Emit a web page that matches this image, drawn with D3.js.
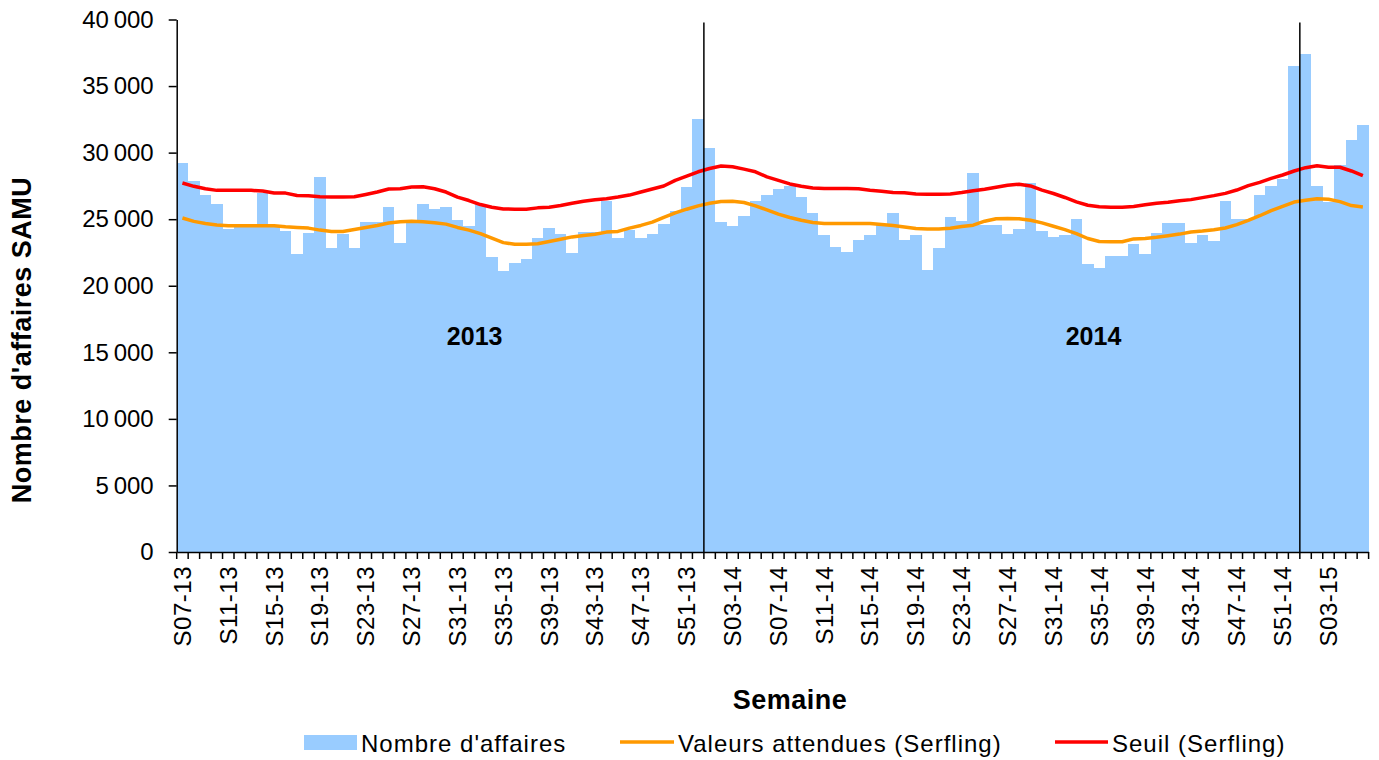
<!DOCTYPE html>
<html>
<head>
<meta charset="utf-8">
<script src="https://cdn.jsdelivr.net/npm/d3@7"></script>
<style>
  body { margin: 0; background: #fff; }
  svg text { font-family: "Liberation Sans", Arial, sans-serif; fill: #000; }
</style>
</head>
<body>
<svg id="chart" width="1379" height="760"></svg>
<script>
// weeks S07-13 .. S06-15
var weeks = [
  "S07-13","S08-13","S09-13","S10-13","S11-13","S12-13","S13-13","S14-13","S15-13","S16-13",
  "S17-13","S18-13","S19-13","S20-13","S21-13","S22-13","S23-13","S24-13","S25-13","S26-13",
  "S27-13","S28-13","S29-13","S30-13","S31-13","S32-13","S33-13","S34-13","S35-13","S36-13",
  "S37-13","S38-13","S39-13","S40-13","S41-13","S42-13","S43-13","S44-13","S45-13","S46-13",
  "S47-13","S48-13","S49-13","S50-13","S51-13","S52-13",
  "S01-14","S02-14","S03-14","S04-14","S05-14","S06-14","S07-14","S08-14","S09-14","S10-14",
  "S11-14","S12-14","S13-14","S14-14","S15-14","S16-14","S17-14","S18-14","S19-14","S20-14",
  "S21-14","S22-14","S23-14","S24-14","S25-14","S26-14","S27-14","S28-14","S29-14","S30-14",
  "S31-14","S32-14","S33-14","S34-14","S35-14","S36-14","S37-14","S38-14","S39-14","S40-14",
  "S41-14","S42-14","S43-14","S44-14","S45-14","S46-14","S47-14","S48-14","S49-14","S50-14",
  "S51-14","S52-14",
  "S01-15","S02-15","S03-15","S04-15","S05-15","S06-15"
];

var affaires = [
  29250,27900,26800,26150,24250,24500,24500,26950,24500,24100,
  22350,24000,28200,22800,23900,22800,24800,24800,25900,23240,
  24800,26150,25750,25900,24960,24500,26150,22180,21090,21700,
  22030,23570,24330,23870,22480,24050,24050,26350,23570,24200,
  23570,23870,24630,25600,27420,32530,
  30330,24810,24500,25270,26350,26800,27250,27480,26630,25430,
  23800,22920,22550,23420,23780,24600,25430,23470,23780,21170,
  22870,25130,24850,28500,24550,24550,23920,24250,27750,24100,
  23630,23780,25000,21650,21340,22250,22250,23170,22400,23940,
  24710,24710,23210,23790,23380,26390,25040,25040,26840,27470,
  28040,36490,
  37420,27470,26270,29100,30980,32050
];

var attendues = [
  25090,24835,24680,24560,24500,24500,24500,24500,24500,24430,
  24380,24330,24180,24080,24080,24230,24380,24530,24710,24810,
  24840,24810,24740,24630,24380,24180,23920,23570,23240,23110,
  23110,23160,23320,23490,23670,23770,23870,24030,24080,24330,
  24530,24780,25140,25470,25750,26000,
  26200,26330,26350,26250,26000,25700,25380,25130,24920,24750,
  24670,24670,24670,24670,24670,24600,24520,24420,24300,24270,
  24270,24320,24450,24550,24850,25030,25050,25030,24920,24720,
  24470,24220,23920,23550,23320,23300,23300,23520,23550,23640,
  23760,23880,24040,24110,24210,24340,24590,24910,25260,25640,
  25960,26290,
  26420,26540,26500,26320,26020,25920
];

var seuil = [
  27720,27470,27290,27165,27165,27165,27165,27110,26960,26960,
  26785,26760,26680,26660,26660,26680,26860,27040,27270,27290,
  27420,27440,27290,27040,26660,26400,26100,25900,25770,25750,
  25750,25850,25900,26030,26200,26350,26460,26530,26660,26810,
  27040,27270,27490,27920,28230,28560,
  28810,28990,28940,28760,28560,28180,27920,27650,27480,27350,
  27300,27300,27300,27280,27180,27100,27000,26980,26900,26880,
  26880,26900,27000,27130,27250,27400,27550,27630,27500,27180,
  26930,26630,26300,26050,25930,25900,25900,25950,26080,26200,
  26270,26390,26470,26620,26770,26940,27190,27520,27770,28070,
  28320,28620,
  28870,29020,28900,28900,28620,28270
];

var tickWeeks = [
  "S07-13","S11-13","S15-13","S19-13","S23-13","S27-13","S31-13","S35-13","S39-13","S43-13",
  "S47-13","S51-13","S03-14","S07-14","S11-14","S15-14","S19-14","S23-14","S27-14","S31-14",
  "S35-14","S39-14","S43-14","S47-14","S51-14","S03-15"
];
var yTicks = [0, 5000, 10000, 15000, 20000, 25000, 30000, 35000, 40000];

// year separators (drawn at start of the week) and year labels
var yearStarts = ["S01-14", "S01-15"];
var yearLabels = ["2013", "2014"];
var yearLabelWeeks = ["S33-13", "S35-14"];
var yearLabelValue = 16200;

var svg = d3.select("#chart"),
    plotLeft = 176.7, plotRight = 1368.6, plotTop = 19.5, plotBottom = 552;

var x = d3.scaleBand()
    .domain(weeks)
    .range([plotLeft, plotRight])
    .padding(0);
var y = d3.scaleLinear()
    .domain([0, 40000])
    .range([plotBottom, plotTop]);

var fmt = d3.formatLocale({decimal: ",", thousands: "\u2009", grouping: [3], currency: ["", " €"]}).format(",d");

// bars
svg.append("g").selectAll("rect")
    .data(affaires)
    .enter().append("rect")
    .attr("x", function (d, i) { return x(weeks[i]); })
    .attr("width", x.bandwidth())
    .attr("y", function (d) { return y(d); })
    .attr("height", function (d) { return y(0) - y(d); })
    .attr("fill", "#99CCFF")
    .attr("shape-rendering", "crispEdges");

// serfling lines
var line = d3.line()
    .x(function (d, i) { return x(weeks[i]) + x.bandwidth() / 2; })
    .y(function (d) { return y(d); });

svg.append("path")
    .datum(attendues)
    .attr("d", line)
    .attr("fill", "none")
    .attr("stroke", "#FF9900")
    .attr("stroke-width", 3.5)
    .attr("stroke-linejoin", "round");

svg.append("path")
    .datum(seuil)
    .attr("d", line)
    .attr("fill", "none")
    .attr("stroke", "#FF0000")
    .attr("stroke-width", 3.5)
    .attr("stroke-linejoin", "round");

// year separators
svg.append("g").selectAll("line")
    .data(yearStarts)
    .enter().append("line")
    .attr("x1", function (d) { return x(d); })
    .attr("x2", function (d) { return x(d); })
    .attr("y1", plotTop + 3)
    .attr("y2", plotBottom)
    .attr("stroke", "#000")
    .attr("stroke-width", 1.5);

svg.append("g").selectAll("text")
    .data(yearLabels)
    .enter().append("text")
    .attr("x", function (d, i) { return x(yearLabelWeeks[i]); })
    .attr("y", y(yearLabelValue))
    .attr("dy", "0.35em")
    .attr("text-anchor", "middle")
    .style("font-size", "25px")
    .style("font-weight", "bold")
    .text(function (d) { return d; });

// y axis
var yAxis = svg.append("g")
    .attr("transform", "translate(" + plotLeft + ",0)")
    .call(d3.axisLeft(y).tickValues(yTicks).tickFormat(fmt).tickSizeInner(8).tickSizeOuter(0).tickPadding(15));
yAxis.select(".domain").attr("stroke-width", 1.5);
yAxis.selectAll(".tick line").attr("stroke-width", 1.5);
yAxis.selectAll("text").style("font-size", "24px").attr("font-family", null);

// x axis
var xAxis = svg.append("g")
    .attr("transform", "translate(0," + plotBottom + ")")
    .call(d3.axisBottom(x).tickValues(tickWeeks).tickSize(0).tickSizeOuter(0).tickPadding(0));
xAxis.select(".domain").attr("stroke-width", 1.5);
xAxis.selectAll("text")
    .attr("font-family", null)
    .style("font-size", "24px")
    .style("letter-spacing", "0.5px")
    .attr("text-anchor", "end")
    .attr("transform", "translate(0,14) rotate(-90)")
    .attr("x", 0)
    .attr("y", 0)
    .attr("dy", "0.35em");

// category boundary ticks
xAxis.selectAll("line.cat")
    .data(weeks.concat([null]))
    .enter().append("line")
    .attr("class", "cat")
    .attr("x1", function (d) { return d ? x(d) : plotRight; })
    .attr("x2", function (d) { return d ? x(d) : plotRight; })
    .attr("y1", 0)
    .attr("y2", 7)
    .attr("stroke", "#000")
    .attr("stroke-width", 1.5);

// axis titles
svg.append("text")
    .attr("x", 790)
    .attr("y", 709)
    .attr("text-anchor", "middle")
    .style("font-size", "27px")
    .style("font-weight", "bold")
    .style("letter-spacing", "0.5px")
    .text("Semaine");

svg.append("text")
    .attr("transform", "translate(31,340) rotate(-90)")
    .attr("text-anchor", "middle")
    .style("font-size", "27px")
    .style("font-weight", "bold")
    .style("letter-spacing", "0.5px")
    .text("Nombre d'affaires SAMU");

// legend
var legend = svg.append("g")
    .attr("transform", "translate(0,742)")
    .style("font-size", "24px")
    .style("letter-spacing", "1px");
legend.append("rect")
    .attr("x", 304).attr("y", -7).attr("width", 53).attr("height", 15)
    .attr("fill", "#99CCFF");
legend.append("text").attr("x", 361).attr("y", 10).text("Nombre d'affaires");
legend.append("line")
    .attr("x1", 620).attr("x2", 674).attr("y1", 0).attr("y2", 0)
    .attr("stroke", "#FF9900").attr("stroke-width", 3.5);
legend.append("text").attr("x", 678).attr("y", 10).text("Valeurs attendues (Serfling)");
legend.append("line")
    .attr("x1", 1055).attr("x2", 1108).attr("y1", 0).attr("y2", 0)
    .attr("stroke", "#FF0000").attr("stroke-width", 3.5);
legend.append("text").attr("x", 1112).attr("y", 10).text("Seuil (Serfling)");
</script>
</body>
</html>
